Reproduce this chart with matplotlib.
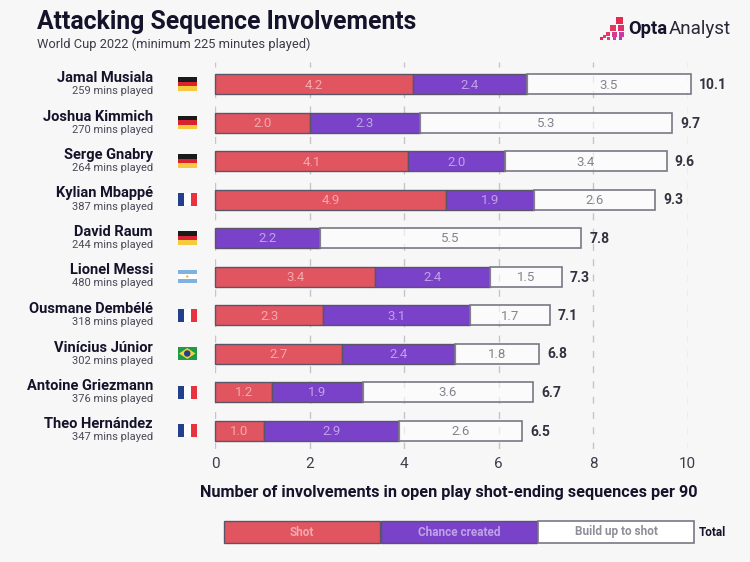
import matplotlib
matplotlib.use("Agg")
import matplotlib.pyplot as plt
from matplotlib.patches import Rectangle, Polygon, Ellipse

plt.rcParams['font.family'] = ['Roboto', 'DejaVu Sans']

players = ["Jamal Musiala", "Joshua Kimmich", "Serge Gnabry", "Kylian Mbappé", "David Raum",
           "Lionel Messi", "Ousmane Dembélé", "Vinícius Júnior", "Antoine Griezmann", "Theo Hernández"]
minutes = [259, 270, 264, 387, 244, 480, 318, 302, 376, 347]
nations = ["GER", "GER", "GER", "FRA", "GER", "ARG", "FRA", "BRA", "FRA", "FRA"]
shot = [4.19, 2.01, 4.09, 4.89, 0, 3.39, 2.29, 2.69, 1.21, 1.04]
chance = [2.41, 2.33, 2.04, 1.86, 2.22, 2.44, 3.11, 2.39, 1.92, 2.86]
buildup = [3.47, 5.33, 3.43, 2.56, 5.53, 1.51, 1.69, 1.78, 3.60, 2.60]
totals = ["10.1", "9.7", "9.6", "9.3", "7.8", "7.3", "7.1", "6.8", "6.7", "6.5"]
xticks = [0, 2, 4, 6, 8, 10]

BG = "#f7f7f8"; RED = "#e15561"; PURPLE = "#7a42c8"; DARK = "#14132a"; EDGE = "#5a5566"
W, H = 750, 562

fig = plt.figure(figsize=(W / 100, H / 100), dpi=100, facecolor=BG)
ax = fig.add_axes([215 / W, 1 - 449 / H, 472.5 / W, (449 - 62) / H])
ax.set_facecolor("none")
ax.set_xlim(0, 10)
ax.set_ylim((449 - 84) / 38.5, (62 - 84) / 38.5)
for s in ax.spines.values():
    s.set_visible(False)
ax.set_yticks([])
ax.set_xticks(xticks)
ax.tick_params(axis='x', length=0, pad=6, labelsize=11, labelcolor="#3d3c48")
ax.set_axisbelow(True)
ax.grid(axis='x', color="#c4c4c9", lw=1, dashes=(5, 6))

def fx(px): return px / W
def fy(py): return 1 - py / H
def ftext(px, py, s, **kw):
    fig.text(fx(px), fy(py), s, va=kw.pop('va', 'center'), **kw)
def frect(px, py, w, h, **kw):
    fig.add_artist(Rectangle((fx(px), fy(py + h)), w / W, h / H, transform=fig.transFigure, **kw))

ys = list(range(len(players)))
bh = 20 / 38.5
left2 = shot
left3 = [a + b for a, b in zip(shot, chance)]
for i in ys:
    if shot[i] > 0:
        ax.barh(i, shot[i], height=bh, color=RED, edgecolor=EDGE, lw=1, zorder=3, clip_on=False)
        ax.annotate(f"{shot[i]:.1f}", (shot[i] / 2, i), xytext=(0, -1), textcoords='offset pixels', ha='center', va='center', color="#f3a9ad", fontsize=9.5, zorder=5)
    ax.barh(i, chance[i], left=left2[i], height=bh, color=PURPLE, edgecolor=EDGE, lw=1, zorder=3, clip_on=False)
    ax.annotate(f"{chance[i]:.1f}", (left2[i] + chance[i] / 2, i), xytext=(0, -1), textcoords='offset pixels', ha='center', va='center', color="#bfa2e8", fontsize=9.5, zorder=5)
    ax.barh(i, buildup[i], left=left3[i], height=bh, color=(1, 1, 1, 0.6), edgecolor="#7a7785", lw=1.2, zorder=3, clip_on=False)
    ax.annotate(f"{buildup[i]:.1f}", (left3[i] + buildup[i] / 2, i), xytext=(0, -1), textcoords='offset pixels', ha='center', va='center', color="#84838e", fontsize=9.5, zorder=5)
    ax.annotate(totals[i], (left3[i] + buildup[i], i), xytext=(8, -1), textcoords='offset pixels', annotation_clip=False,
                ha='left', va='center', color="#33323f", fontsize=10, fontweight='bold', zorder=5)
    ax.annotate(players[i], (0, i), xytext=(-62, 6), textcoords='offset pixels', annotation_clip=False,
                ha='right', va='center', color=DARK, fontsize=10.5, fontweight='bold')
    ax.annotate(f"{minutes[i]} mins played", (0, i), xytext=(-62, -7), textcoords='offset pixels', annotation_clip=False,
                ha='right', va='center', color="#4a4956", fontsize=8)

# flags
def flag(cy, code):
    x0, w, h = 177.5, 19.5, 13
    y0 = cy - h / 2
    if code == "GER":
        for k, c in enumerate(["#1a1a1a", "#d9232e", "#f7c93e"]):
            frect(x0, y0 + k * h / 3, w, h / 3, color=c, lw=0)
    elif code == "FRA":
        for k, c in enumerate(["#23408f", "#ffffff", "#e8323f"]):
            frect(x0 + k * w / 3, y0, w / 3, h, color=c, lw=0)
    elif code == "ARG":
        for k, c in enumerate(["#7fb2e0", "#ffffff", "#7fb2e0"]):
            frect(x0, y0 + k * h / 3, w, h / 3, color=c, lw=0)
        fig.add_artist(Ellipse((fx(x0 + w / 2), fy(cy)), 2.4 / W, 2.4 / H, transform=fig.transFigure, color="#e8b93e", lw=0))
    else:
        frect(x0, y0, w, h, color="#1f9a47", lw=0)
        fig.add_artist(Polygon([(fx(x0 + 1.5), fy(cy)), (fx(x0 + w / 2), fy(y0 + 1)), (fx(x0 + w - 1.5), fy(cy)), (fx(x0 + w / 2), fy(y0 + h - 1))],
                               transform=fig.transFigure, color="#f4d23a", lw=0))
        fig.add_artist(Ellipse((fx(x0 + w / 2), fy(cy)), 6.5 / W, 6.5 / H, transform=fig.transFigure, color="#243f8f", lw=0))
for i, n in zip(ys, nations):
    flag(84 + 38.5 * i, n)

# header
ftext(37, 22, "Attacking Sequence Involvements", color=DARK, fontsize=17.8, fontweight='bold')
ftext(37, 44, "World Cup 2022 (minimum 225 minutes played)", color="#3c3b47", fontsize=9.25)
ax.set_xlabel("Number of involvements in open play shot-ending sequences per 90", fontsize=11.7,
              fontweight='bold', color=DARK, labelpad=9.5)
ax.xaxis.label.set_x(0.4955)

# legend
lx = [223.5, 380.5, 537.5]
lw_ = 156.5
frect(lx[0], 521, lw_, 22, facecolor=RED, edgecolor=EDGE, lw=1)
frect(lx[1], 521, lw_, 22, facecolor=PURPLE, edgecolor=EDGE, lw=1)
frect(lx[2], 521, lw_, 22, facecolor="white", edgecolor="#7a7785", lw=1.2)
ftext(302, 532, "Shot", ha='center', color="#f3a9ad", fontsize=8.5, fontweight='bold')
ftext(459, 532, "Chance created", ha='center', color="#bfa2e8", fontsize=8.5, fontweight='bold')
ftext(616, 532, "Build up to shot", ha='center', color="#8f8e99", fontsize=8.5, fontweight='bold')
ftext(699, 532, "Total", ha='left', color=DARK, fontsize=8.5, fontweight='bold')

# logo
squares = [(616, 17, 7, "#e5294f"), (610, 25, 6, "#e23a5e"), (618, 25, 6, "#e0306a"),
           (606, 32, 4, "#e23a6a"), (612, 32, 5, "#d83a8c"), (619, 32, 5, "#c93aa5"),
           (603, 35, 3, "#e23a6a"),
           (600, 37, 3, "#e5294f"), (607, 37, 3, "#d83a8c"), (613, 37, 3, "#c93aa5"), (619, 37, 3, "#b33ab8")]
for sx, sy, sz, c in squares:
    frect(sx, sy, sz, sz, color=c, lw=0)
ftext(628, 29, "Opta", color=DARK, fontsize=13.2, fontweight='bold')
ftext(669, 29, "Analyst", color="#2a2938", fontsize=13.6, fontweight='normal')

fig.savefig("out.png", dpi=100, facecolor=BG)
